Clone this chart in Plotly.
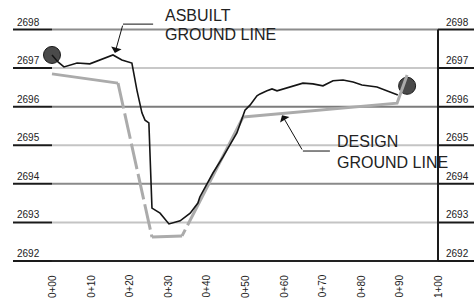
import plotly.graph_objects as go

# ---- data ----
asbuilt_x = [0, 1.55, 3.1, 6.5, 9.8, 13.0, 15.8, 18.1, 20.7, 22.0, 23.3, 24.1, 25.1, 25.9, 28.0,
             30.3, 33.2, 35.8, 37.8, 38.3, 40.9, 41.7, 44.3, 47.9, 50.0, 51.3, 53.1, 53.9, 55.7,
             57.0, 58.3, 60.9, 63.7, 65.0, 67.6, 70.2, 72.8, 75.4, 78.0, 80.3, 84.2, 87.0, 89.6]
asbuilt_y = [2697.34, 2697.16, 2697.03, 2697.13, 2697.11, 2697.24, 2697.34, 2697.21, 2697.13,
             2696.43, 2695.84, 2695.65, 2695.58, 2693.37, 2693.24, 2692.96, 2693.04, 2693.24,
             2693.50, 2693.66, 2694.15, 2694.28, 2694.70, 2695.32, 2695.91, 2696.04, 2696.28,
             2696.33, 2696.41, 2696.46, 2696.41, 2696.48, 2696.56, 2696.61, 2696.59, 2696.54,
             2696.67, 2696.69, 2696.64, 2696.56, 2696.51, 2696.41, 2696.30]

design_x = [0, 17.1, 25.9, 33.7, 49.5, 89.4, 92.0]
design_y = [2696.85, 2696.61, 2692.62, 2692.65, 2695.73, 2696.09, 2696.82]

end_x = [0, 92.0]
end_y = [2697.34, 2696.54]

elev_ticks = [2698, 2697, 2696, 2695, 2694, 2693, 2692]
elev_labels = ["2698", "2697", "2696", "2695", "2694", "2693", "2692"]
grid_colors = ["#8c8c8c", "#c8c8c8", "#7c7c7c", "#c4c4c4", "#8a8a8a", "#c4c4c4", "#222222"]

sta_ticks = [0, 10, 20, 30, 40, 50, 60, 70, 80, 90, 100]
sta_labels = ["0+00", "0+10", "0+20", "0+30", "0+40", "0+50", "0+60", "0+70", "0+80", "0+90", "1+00"]

X0, X1 = -13.47, 109.33
Y0, Y1 = 2690.807, 2698.765
FONT = "Liberation Sans, Arial, sans-serif"

fig = go.Figure()

shapes = []
for v, c in zip(elev_ticks, grid_colors):
    shapes.append(dict(type="line", xref="x", yref="y", x0=sta_ticks[0], x1=sta_ticks[-1], y0=v, y1=v,
                       line=dict(color=c, width=2), layer="below"))
    shapes.append(dict(type="line", xref="x", yref="y", x0=-10.1, x1=sta_ticks[0], y0=v, y1=v,
                       line=dict(color="#1a1a1a", width=2), layer="below"))
    shapes.append(dict(type="line", xref="x", yref="y", x0=sta_ticks[-1], x1=X1, y0=v, y1=v,
                       line=dict(color="#1a1a1a", width=2), layer="below"))
shapes.append(dict(type="line", xref="x", yref="y", x0=sta_ticks[-1], x1=sta_ticks[-1],
                   y0=elev_ticks[-1], y1=elev_ticks[0], line=dict(color="#1a1a1a", width=2)))
# leader horizontals
shapes.append(dict(type="line", xref="x", yref="y", x0=18.4, x1=26.2, y0=2698.14, y1=2698.14,
                   line=dict(color="#111", width=1)))
shapes.append(dict(type="line", xref="x", yref="y", x0=65.0, x1=72.0, y0=2694.85, y1=2694.85,
                   line=dict(color="#111", width=1)))

# end circles
fig.add_trace(go.Scatter(x=end_x, y=end_y, mode="markers",
                         marker=dict(size=17, color="#4a4a4a", line=dict(color="#1a1a1a", width=1)),
                         hoverinfo="skip", showlegend=False))

# design ground line
gcol = "#ababab"
fig.add_trace(go.Scatter(x=design_x[0:2], y=design_y[0:2], mode="lines",
                         line=dict(color=gcol, width=3), showlegend=False))
fig.add_trace(go.Scatter(x=design_x[1:3], y=design_y[1:3], mode="lines",
                         line=dict(color=gcol, width=3, dash="26px,5px"), showlegend=False))
fig.add_trace(go.Scatter(x=design_x[2:4], y=design_y[2:4], mode="lines",
                         line=dict(color=gcol, width=3), showlegend=False))
fig.add_trace(go.Scatter(x=design_x[3:5], y=design_y[3:5], mode="lines",
                         line=dict(color=gcol, width=3, dash="7px,5px,300px"), showlegend=False))
fig.add_trace(go.Scatter(x=design_x[4:], y=design_y[4:], mode="lines",
                         line=dict(color=gcol, width=3), showlegend=False))

# asbuilt ground line
fig.add_trace(go.Scatter(x=asbuilt_x, y=asbuilt_y, mode="lines",
                         line=dict(color="#151515", width=1.6), showlegend=False))

ann = []
for v, t in zip(elev_ticks, elev_labels):
    ann.append(dict(x=-6.2, y=v, text=t, showarrow=False, xanchor="center", yanchor="bottom",
                    yshift=0, font=dict(family=FONT, size=10, color="#222")))
    ann.append(dict(x=105.05, y=v, text=t, showarrow=False, xanchor="center", yanchor="bottom",
                    yshift=0, font=dict(family=FONT, size=10, color="#222")))
for v, t in zip(sta_ticks, sta_labels):
    ann.append(dict(x=v, y=2691.35, text=t, showarrow=False, textangle=-90,
                    xanchor="center", yanchor="middle", font=dict(family=FONT, size=10, color="#222")))

ann.append(dict(x=28.76, y=2698.376, text="ASBUILT", showarrow=False, xanchor="left", yanchor="middle",
                font=dict(family=FONT, size=16, color="#222")))
ann.append(dict(x=28.76, y=2697.883, text="GROUND LINE", showarrow=False, xanchor="left", yanchor="middle",
                font=dict(family=FONT, size=16, color="#222")))
ann.append(dict(x=73.3, y=2695.11, text="DESIGN", showarrow=False, xanchor="left", yanchor="middle",
                font=dict(family=FONT, size=16, color="#222")))
ann.append(dict(x=73.3, y=2694.54, text="GROUND LINE", showarrow=False, xanchor="left", yanchor="middle",
                font=dict(family=FONT, size=16, color="#222")))

ann.append(dict(x=16.3, y=2697.39, ax=18.4, ay=2698.14, axref="x", ayref="y", text="",
                showarrow=True, arrowhead=1, arrowsize=1.8, arrowwidth=1, arrowcolor="#111", standoff=0))
ann.append(dict(x=59.6, y=2695.78, ax=65.0, ay=2694.85, axref="x", ayref="y", text="",
                showarrow=True, arrowhead=1, arrowsize=1.8, arrowwidth=1, arrowcolor="#111", standoff=0))

fig.update_layout(
    width=474, height=307,
    margin=dict(l=0, r=0, t=0, b=0),
    paper_bgcolor="white", plot_bgcolor="white",
    xaxis=dict(range=[X0, X1], visible=False, fixedrange=True),
    yaxis=dict(range=[Y0, Y1], visible=False, fixedrange=True),
    shapes=shapes, annotations=ann, showlegend=False,
)

fig.write_html("out.html",
               config={"displayModeBar": False, "staticPlot": True},
               post_script="document.body.style.margin='0';document.body.style.overflow='hidden';")
